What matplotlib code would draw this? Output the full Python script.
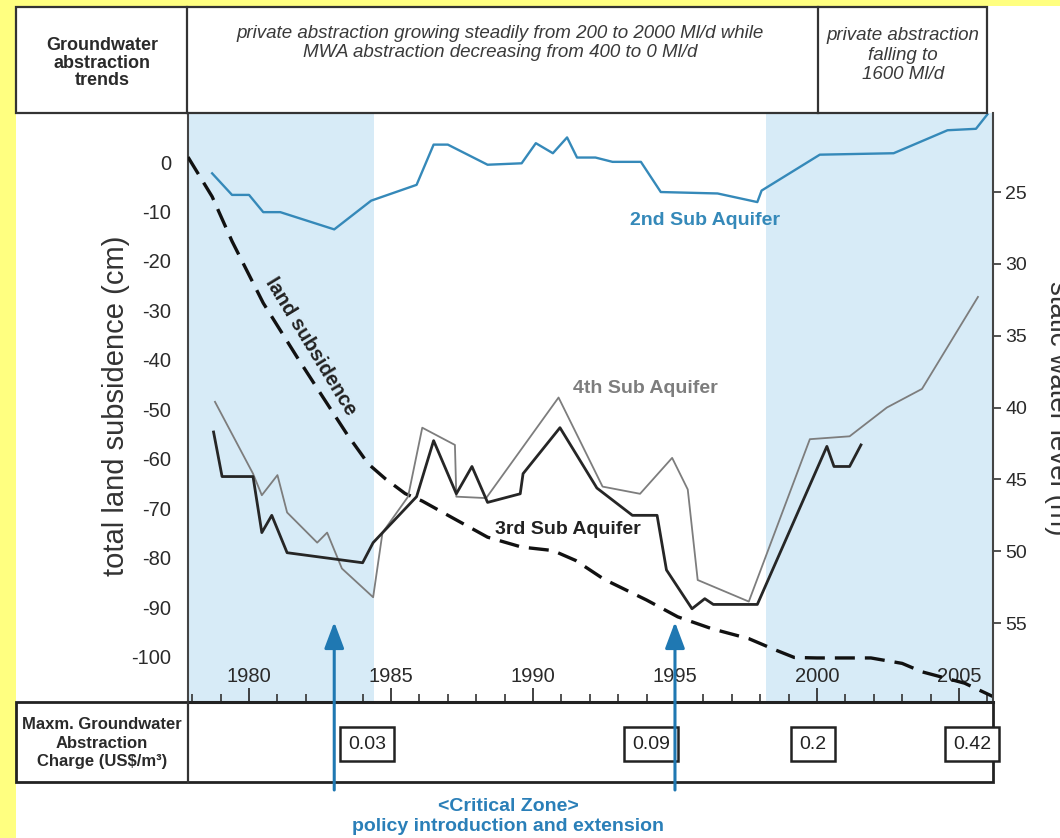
import matplotlib
matplotlib.use("Agg")
import matplotlib.pyplot as plt
import matplotlib.transforms as mtransforms
from matplotlib.patches import Rectangle, FancyArrowPatch
from matplotlib.lines import Line2D

plt.rcParams['font.family'] = ['Liberation Sans', 'DejaVu Sans']
plt.rcParams['axes.unicode_minus'] = False

# land subsidence (cm, left axis)
years_sub = [1977.85, 1978.7, 1979.4, 1980.5, 1981.7, 1982.6, 1983.45, 1984.2, 1984.8,
             1985.5, 1986.1, 1987.2, 1988.4, 1989.6, 1990.7, 1991.5, 1992.5, 1994.0,
             1995.1, 1996.3, 1997.6, 1998.5, 1999.2, 2000.0, 2001.9, 2003.0, 2003.7,
             2005.2, 2006.2]
subsidence = [1, -7, -16, -28.5, -39.5, -47.5, -55, -61, -64,
              -67, -68.5, -72, -75.8, -77.8, -78.5, -80.5, -84.3, -88.5,
              -91.9, -94.3, -96.3, -98.5, -100.1, -100.2, -100.2, -101.3, -103,
              -105.3, -108]

# static water level (m, right axis)
years_2nd = [1978.7, 1979.4, 1980.0, 1980.5, 1981.1, 1983.0, 1984.3, 1985.9, 1986.5,
             1987.0, 1988.4, 1989.6, 1990.1, 1990.7, 1991.2, 1991.55, 1992.2, 1992.8,
             1993.8, 1994.5, 1996.5, 1997.9, 1998.05, 2000.1, 2002.7, 2004.6, 2005.6,
             2006.0]
level_2nd = [23.7, 25.2, 25.2, 26.4, 26.4, 27.6, 25.6, 24.5, 21.7,
             21.7, 23.1, 23.0, 21.6, 22.3, 21.2, 22.6, 22.6, 22.9,
             22.9, 25.0, 25.1, 25.7, 24.9, 22.4, 22.3, 20.7, 20.6,
             19.6]

years_3rd = [1978.75, 1979.05, 1980.14, 1980.45, 1980.8, 1981.34, 1984.0, 1984.37,
             1985.9, 1986.5, 1987.3, 1987.85, 1988.4, 1989.55, 1989.65, 1990.95,
             1992.25, 1993.5, 1994.37, 1994.7, 1995.6, 1996.05, 1996.35, 1997.9,
             2000.35, 2000.6, 2001.15, 2001.55]
level_3rd = [41.7, 44.8, 44.8, 48.7, 47.5, 50.1, 50.8, 49.4,
             46.2, 42.3, 46.0, 44.1, 46.6, 46.0, 44.6, 41.4,
             45.6, 47.5, 47.5, 51.3, 54.0, 53.3, 53.7, 53.7,
             42.7, 44.1, 44.1, 42.6]

years_4th = [1978.8, 1980.14, 1980.45, 1981.0, 1981.34, 1982.4, 1982.75, 1983.27,
             1984.37, 1984.7, 1985.6, 1986.1, 1987.25, 1987.3, 1988.35, 1990.9,
             1992.45, 1993.77, 1994.9, 1995.45, 1995.8, 1997.6, 1999.75, 2001.15,
             2002.46, 2003.7, 2005.67]
level_4th = [39.6, 44.6, 46.1, 44.7, 47.3, 49.4, 48.7, 51.2,
             53.2, 48.7, 46.2, 41.4, 42.6, 46.2, 46.3, 39.3,
             45.5, 46.0, 43.5, 45.7, 52.0, 53.5, 42.2, 42.0,
             40.0, 38.7, 32.3]

# abstraction charge boxes and policy arrows
charge_years = [1984.15, 1994.15, 1999.86, 2005.46]
charge_labels = ["0.03", "0.09", "0.2", "0.42"]
policy_years = [1983, 1995]
shade_spans = [(1977.85, 1984.4), (1998.2, 2006.2)]

W, H = 1060, 838
YELLOW = "#ffff80"
SHADE = "#d7ebf7"
BLUE = "#3589b9"
ARROW = "#1f78b2"
DARK = "#262626"


def fx(px):
    return px / W


def fy(py):
    return 1 - py / H


fig = plt.figure(figsize=(W / 100, H / 100), dpi=100)
fig.patch.set_facecolor("white")
fig.add_artist(Rectangle((0, 0), fx(16), 1, transform=fig.transFigure, color=YELLOW, lw=0, zorder=0))
fig.add_artist(Rectangle((0, fy(6)), 1, 1 - fy(6), transform=fig.transFigure, color=YELLOW, lw=0, zorder=0))

ax = fig.add_axes([fx(188), fy(702), fx(993) - fx(188), fy(113) - fy(702)])
ax.set_facecolor("white")
ax.set_xlim(1977.85, 2006.2)
ax.set_ylim(-109.1, 9.9)
for a, b in shade_spans:
    ax.axvspan(a, b, color=SHADE, lw=0, zorder=0)

ax.plot(years_sub, subsidence, color="#111111", lw=2.4, ls=(0, (6, 3)), zorder=3)

ax2 = ax.twinx()
ax2.set_ylim(60.49, 19.5)
ax2.plot(years_2nd, level_2nd, color=BLUE, lw=1.7)
ax2.plot(years_4th, level_4th, color="#7d7d7d", lw=1.3)
ax2.plot(years_3rd, level_3rd, color=DARK, lw=2.0)

# ticks
ax.set_xticks(range(1980, 2006, 5))
ax.set_xticks(range(1978, 2007), minor=True)
ax.tick_params(axis="x", which="major", direction="in", length=10, width=1.3,
               pad=-25, labelsize=14.5, labelcolor="#2a2a2a", color="#333")
ax.tick_params(axis="x", which="minor", direction="in", length=6, width=1.2, color="#333")
ax.set_yticks(range(-100, 1, 10))
ax.tick_params(axis="y", length=0, pad=12, labelsize=14.5, labelcolor="#2a2a2a")
ax2.set_yticks(range(25, 56, 5))
ax2.tick_params(axis="y", direction="out", length=6, width=1.2, pad=3,
                labelsize=14, labelcolor="#2a2a2a", color="#333")

for s in ["top", "right"]:
    ax.spines[s].set_visible(False)
for s in ["top", "left", "bottom"]:
    ax2.spines[s].set_visible(False)
ax.spines["left"].set_linewidth(1.5)
ax.spines["left"].set_color("#444")
ax.spines["bottom"].set_linewidth(2.2)
ax.spines["bottom"].set_color("#222")
ax2.spines["right"].set_linewidth(1.5)
ax2.spines["right"].set_color("#444")

# series labels
ax.text(1982.16, -37.2, "land subsidence", rotation=-58.6, rotation_mode="anchor",
        ha="center", va="center", fontsize=14.5, fontweight="bold", color="#222")
ax2.text(1996.06, 26.95, "2nd Sub Aquifer", ha="center", va="center",
         fontsize=14, fontweight="bold", color=BLUE)
ax2.text(1993.94, 38.64, "4th Sub Aquifer", ha="center", va="center",
         fontsize=14, fontweight="bold", color="#7d7d7d")
ax2.text(1991.23, 48.5, "3rd Sub Aquifer", ha="center", va="center",
         fontsize=14, fontweight="bold", color="#222")

# axis titles
fig.text(fx(116), fy(406), "total land subsidence (cm)", rotation=90, ha="center",
         va="center", fontsize=21, color="#333")
fig.text(fx(1057), fy(408), "static water level (m)", rotation=-90, ha="center",
         va="center", fontsize=20, color="#333")

# header table
fig.add_artist(Rectangle((fx(16), fy(113)), fx(987) - fx(16), fy(7) - fy(113),
                         transform=fig.transFigure, fill=False, lw=1.6, ec="#333", zorder=4))
for xp in [187, 818]:
    fig.add_artist(Line2D([fx(xp), fx(xp)], [fy(113), fy(7)], transform=fig.transFigure,
                          lw=1.6, color="#333", zorder=4))
fig.text(fx(102), fy(63), "Groundwater\nabstraction\ntrends", ha="center", va="center",
         fontsize=13, fontweight="bold", color="#2a2a2a", linespacing=1.05)
fig.text(fx(500), fy(43), "private abstraction growing steadily from 200 to 2000 Ml/d while\n"
         "MWA abstraction decreasing from 400 to 0 Ml/d", ha="center", va="center",
         fontsize=13.5, style="italic", color="#3a3a3a", linespacing=1.15)
fig.text(fx(903), fy(55), "private abstraction\nfalling to\n1600 Ml/d", ha="center", va="center",
         fontsize=13.5, style="italic", color="#3a3a3a", linespacing=1.2)

# bottom charge table
fig.add_artist(Rectangle((fx(16), fy(782)), fx(993) - fx(16), fy(702) - fy(782),
                         transform=fig.transFigure, fill=False, lw=2.0, ec="#222", zorder=4))
fig.add_artist(Line2D([fx(188), fx(188)], [fy(782), fy(702)], transform=fig.transFigure,
                      lw=1.6, color="#333", zorder=4))
fig.text(fx(102), fy(743), "Maxm. Groundwater\nAbstraction\nCharge (US$/m³)", ha="center",
         va="center", fontsize=12, fontweight="bold", color="#2a2a2a", linespacing=1.3)

blend = mtransforms.blended_transform_factory(ax.transData, fig.transFigure)
for yr, lab in zip(charge_years, charge_labels):
    fig.text(yr, fy(744), lab, transform=blend, ha="center", va="center", fontsize=14,
             color="#222", zorder=6,
             bbox=dict(boxstyle="square,pad=0.42", fc="white", ec="#222", lw=1.8))

for yr in policy_years:
    arr = FancyArrowPatch((yr, fy(790)), (yr, fy(622)), transform=blend,
                          arrowstyle="-|>,head_length=16,head_width=6", mutation_scale=1,
                          lw=2.2, color=ARROW, shrinkA=0, shrinkB=0, zorder=7)
    fig.add_artist(arr)

fig.text(fx(508), fy(806), "<Critical Zone>", ha="center", va="center", fontsize=14,
         fontweight="bold", color="#2a7fb8")
fig.text(fx(508), fy(826), "policy introduction and extension", ha="center", va="center",
         fontsize=14, fontweight="bold", color="#2a7fb8")

fig.savefig("out.png", dpi=100)
